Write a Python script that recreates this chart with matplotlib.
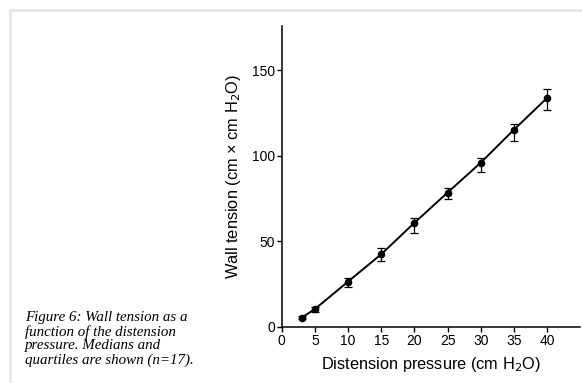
"""
Wall tension against distension pressure, medians with quartile bars.
"""
import numpy as np
import matplotlib
matplotlib.use("Agg")
from matplotlib import pyplot as plt
from matplotlib.patches import Rectangle

# Data
pressure = [3, 5, 10, 15, 20, 25, 30, 35, 40]
tension_median = [5.3, 10.3, 26.4, 42.4, 60.8, 78.5, 96.0, 115.3, 133.9]
tension_q1 = [4.6, 8.8, 23.0, 38.4, 55.0, 75.0, 90.8, 108.8, 127.0]
tension_q3 = [6.0, 11.7, 28.3, 46.0, 63.5, 81.4, 99.0, 118.8, 139.2]
x_ticks = [0, 5, 10, 15, 20, 25, 30, 35, 40]
y_ticks = [0, 50, 100, 150]
caption = ("Figure 6: Wall tension as a\nfunction of the distension\n"
           "pressure. Medians and\nquartiles are shown (n=17).")

plt.rcParams["font.family"] = ["Liberation Sans", "DejaVu Sans"]

fig = plt.figure(figsize=(5.82, 3.83), dpi=100)

# Page card with faint shadow edge, kept behind the axes
card = Rectangle((10 / 582, -0.01), 1.0, (383 - 10) / 383 + 0.01,
                 transform=fig.transFigure, facecolor="white",
                 edgecolor="#e6e6e6", linewidth=2.0, zorder=-10)
fig.patches.append(card)

ax = fig.add_axes([281.7 / 582, 56.3 / 383, 0.513, (357 - 56.3) / 383])
ax.set_zorder(5)
ax.patch.set_alpha(0)

med = np.array(tension_median)
yerr = np.vstack([med - np.array(tension_q1), np.array(tension_q3) - med])
ax.errorbar(pressure, med, yerr=yerr, color="black", linewidth=1.4,
            marker="o", markersize=4.5, elinewidth=0.9, capsize=3,
            capthick=0.9)

ax.set_xlim(0, 45)
ax.set_ylim(0, 176)
ax.set_xticks(x_ticks)
ax.set_yticks(y_ticks)
ax.spines["top"].set_visible(False)
ax.spines["right"].set_visible(False)
for side in ("left", "bottom"):
    ax.spines[side].set_linewidth(1.1)
ax.tick_params(direction="out", length=3.5, width=1.0, labelsize=10,
               pad=1.5)

ax.set_xlabel("Distension pressure (cm H$_2$O)", fontsize=11.8, labelpad=5)
ax.set_ylabel("Wall tension (cm \u00d7 cm H$_2$O)", fontsize=11.8,
              labelpad=6)

fig.text(25 / 582, 1 - 311 / 383, caption, family="Liberation Serif",
         style="italic", fontsize=10.8, linespacing=1.08, va="top",
         ha="left", zorder=6)

fig.savefig("out.png", dpi=100)
